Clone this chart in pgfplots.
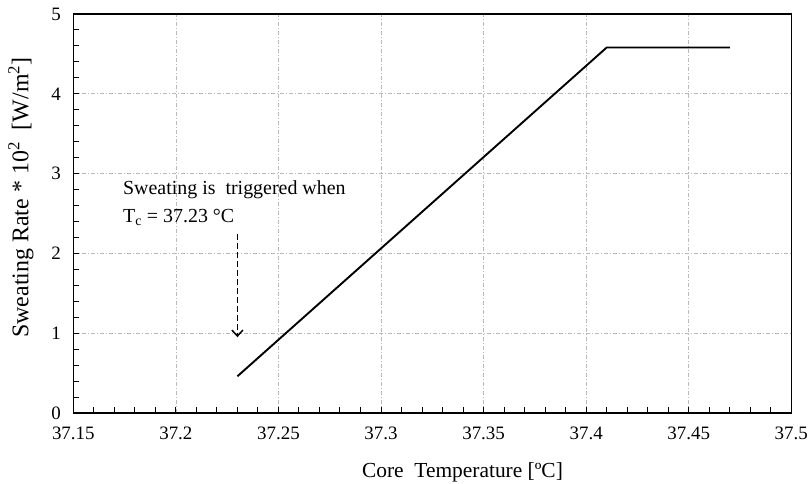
\documentclass[border=0pt]{standalone}
\usepackage{pgfplots}
\pgfplotsset{compat=1.18}
\usepackage{fontspec}
\setmainfont{Liberation Serif}
\usetikzlibrary{arrows.meta}

\begin{document}
\begin{tikzpicture}
\begin{axis}[
  at={(0,0)}, anchor=south west,
  scale only axis,
  width=718bp, height=399bp,
  xmin=37.15, xmax=37.5,
  ymin=0, ymax=5,
  xtick={37.15,37.2,37.25,37.3,37.35,37.4,37.45,37.5},
  xticklabels={37.15,37.2,37.25,37.3,37.35,37.4,37.45,37.5},
  ytick={0,1,2,3,4,5},
  minor x tick num=4,
  minor y tick num=4,
  xtick pos=bottom, ytick pos=left,
  tick align=inside,
  major tick length=6bp, minor tick length=6bp,
  tick style={black, line width=1bp},
  axis line style={black, line width=1.3bp},
  xmajorgrids, ymajorgrids,
  major grid style={gray!55, line width=0.7bp,
    dash pattern=on 4bp off 2bp on 1bp off 2bp},
  /pgf/number format/assume math mode=true,
  ticklabel style={font=\fontsize{19}{22}\selectfont},
  yticklabel style={xshift=-9bp},
  xticklabel style={yshift=-10bp},
  xlabel={Core~~Temperature [ºC]},
  xlabel style={at={(axis description cs:0.542,0)}, anchor=base,
    yshift=-64bp, font=\fontsize{21.5}{25}\selectfont},
  ylabel={Sweating Rate * 10\textsuperscript{2}~~[W/m\textsuperscript{2}]},
  % the label is rotated, so its local y points to the left
  ylabel style={at={(axis description cs:0,0.54)}, anchor=base,
    yshift=45bp, font=\fontsize{24}{28}\selectfont},
]
% sweating rate versus core temperature
\addplot[black, line width=1.9bp] coordinates {
  (37.23,0.46) (37.41,4.58) (37.47,4.58)
};
% onset annotation
\draw[black, line width=1.5bp, dash pattern=on 6bp off 3bp,
  -{Straight Barb[length=6bp,width=11bp]}]
  (axis cs:37.23,2.24) -- (axis cs:37.23,0.95);
\node[anchor=base west, inner sep=0pt, font=\fontsize{20}{24}\selectfont]
  at (axis cs:37.1742,2.744) {Sweating is~~triggered when};
\node[anchor=base west, inner sep=0pt, font=\fontsize{20}{24}\selectfont]
  at (axis cs:37.1742,2.39) {T\textsubscript{c} = 37.23 °C};
\end{axis}
\pgfresetboundingbox
\path[use as bounding box] (-73.3bp,-71bp) rectangle (734.7bp,413bp);
\end{tikzpicture}
\end{document}
